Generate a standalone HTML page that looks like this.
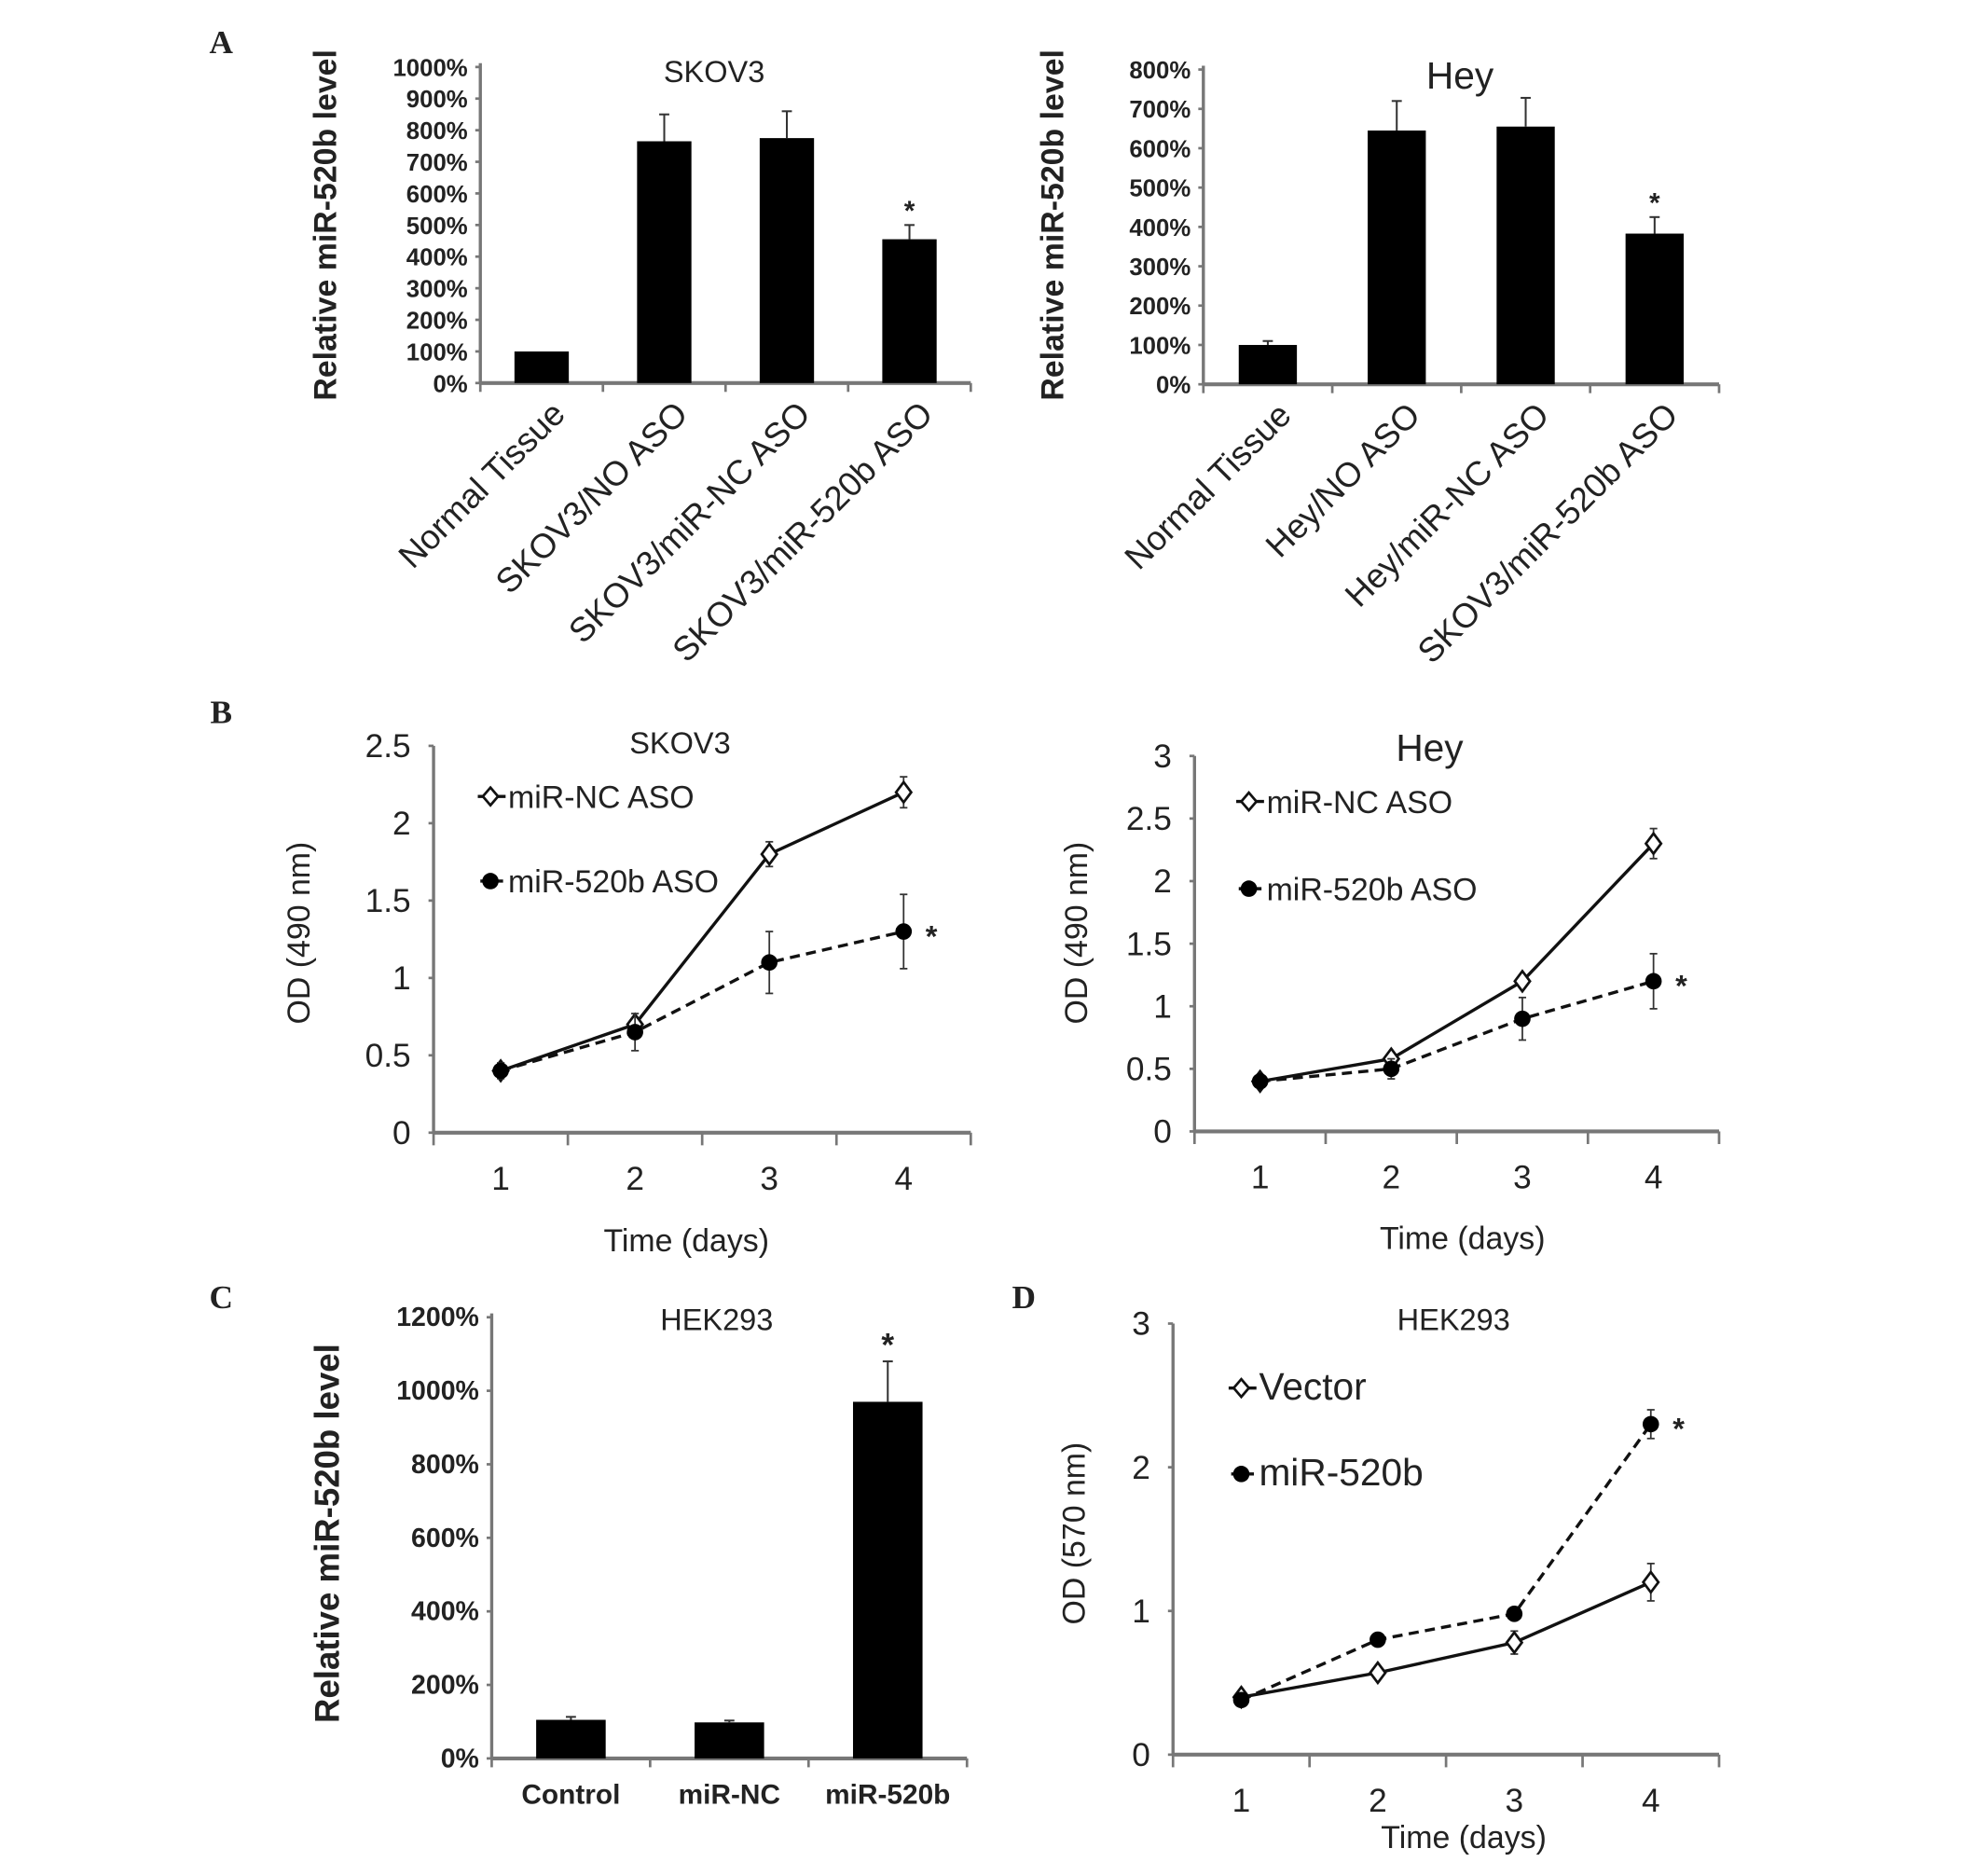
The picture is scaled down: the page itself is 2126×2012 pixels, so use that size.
<!DOCTYPE html>
<html><head><meta charset="utf-8"><style>
html,body{margin:0;padding:0;background:#fff;}
svg{display:block;}
text{font-family:"Liberation Sans",sans-serif;fill:#222;}
</style></head><body>
<svg id="fig" width="2126" height="2012" viewBox="0 0 1568 1484" preserveAspectRatio="none" xmlns="http://www.w3.org/2000/svg"></svg>
<script>
// ---- data ----
const aSkovCats = ["Normal Tissue","SKOV3/NO ASO","SKOV3/miR-NC ASO","SKOV3/miR-520b ASO"];
const aSkovVals = [100,765,775,455];
const aSkovErr = [0,85,85,45];
const aSkovTicks = ["0%","100%","200%","300%","400%","500%","600%","700%","800%","900%","1000%"];
const aHeyCats = ["Normal Tissue","Hey/NO ASO","Hey/miR-NC ASO","SKOV3/miR-520b ASO"];
const aHeyVals = [100,645,655,383];
const aHeyErr = [10,75,73,42];
const aHeyTicks = ["0%","100%","200%","300%","400%","500%","600%","700%","800%"];
const days = [1,2,3,4];
const bSkovNC = [0.4,0.7,1.8,2.2];
const bSkovNCErr = [0.05,0.03,0.08,0.1];
const bSkov520 = [0.4,0.65,1.1,1.3];
const bSkov520Err = [0.05,0.12,0.2,0.24];
const bSkovTicks = ["0","0.5","1","1.5","2","2.5"];
const bHeyNC = [0.4,0.58,1.2,2.3];
const bHeyNCErr = [0.03,0.04,0.05,0.12];
const bHey520 = [0.4,0.5,0.9,1.2];
const bHey520Err = [0.05,0.08,0.17,0.22];
const bHeyTicks = ["0","0.5","1","1.5","2","2.5","3"];
const cCats = ["Control","miR-NC","miR-520b"];
const cVals = [105,98,970];
const cErr = [8,5,110];
const cTicks = ["0%","200%","400%","600%","800%","1000%","1200%"];
const dVector = [0.4,0.57,0.78,1.2];
const dVectorErr = [0.02,0.03,0.08,0.13];
const d520 = [0.38,0.8,0.98,2.3];
const d520Err = [0.02,0.03,0.03,0.1];
const dTicks = ["0","1","2","3"];

const NS="http://www.w3.org/2000/svg";
const svg=document.getElementById('fig');
function el(tag,attrs,parent){const e=document.createElementNS(NS,tag);for(const k in attrs)e.setAttribute(k,attrs[k]);(parent||svg).appendChild(e);return e;}
function txt(s,x,y,size,opts,parent){opts=opts||{};const t=el('text',{x:x,y:y,'font-size':size,'text-anchor':opts.anchor||'middle','font-weight':opts.bold?'bold':'normal'},parent);if(opts.rot!==undefined)t.setAttribute('transform','rotate('+opts.rot+' '+x+' '+y+')');if(opts.family)t.setAttribute('style','font-family:'+opts.family);t.textContent=s;return t;}

function barChart(g,cfg){
  const {x0,x1,y0,y1,max,cats,vals,err,ticks,bw}=cfg;
  const ys=v=>y0-(v/max)*(y0-y1);
  const band=(x1-x0)/cats.length;
  const xs=i=>x0+band*(i+0.5);
  const ax=el('g',{},g);
  
  
  el('line',{x1:x0,y1:y0,x2:x0,y2:y1-3,stroke:'#777','stroke-width':2.5},ax);
  ticks.forEach((t,i)=>{const v=i*max/(ticks.length-1);const y=ys(v);
    el('line',{x1:x0-4,y1:y,x2:x0,y2:y,stroke:'#777','stroke-width':2},ax);
    const tl=txt(t,x0-10,y+7,cfg.tickSize||19,{anchor:'end',bold:true},ax);
    
    });
  const xa=el('g',{},g);
  
  
  el('line',{x1:x0,y1:y0,x2:x1,y2:y0,stroke:'#777','stroke-width':3},xa);
  for(let i=0;i<=cats.length;i++)el('line',{x1:x0+band*i,y1:y0,x2:x0+band*i,y2:y0+7,stroke:'#777','stroke-width':2},xa);
  cats.forEach((c,i)=>{
    const cx=xs(i);
    const r=el('rect',{x:cx-bw/2,y:ys(vals[i]),width:bw,height:y0-ys(vals[i]),fill:'#000'},g);
    
    
    if(err[i]>0){const t=ys(vals[i]+err[i]);
      el('line',{x1:cx,y1:ys(vals[i]),x2:cx,y2:t,stroke:'#333','stroke-width':1.5},g);
      el('line',{x1:cx-4,y1:t,x2:cx+4,y2:t,stroke:'#333','stroke-width':1.5},g);}
    let lab;
    if(cfg.rotLabels){lab=txt(c,cx+20,y0+26,27,{anchor:'end',rot:-45},xa);}
    else{lab=txt(c,cx,y0+36,22,{bold:true},xa);}
    
    
  });
  if(cfg.star!==undefined){const i=cfg.star;txt('*',xs(i),ys(vals[i]+err[i])-4,cfg.starSize||22,{bold:true},g);}
}

function lineChart(g,cfg){
  const {x0,x1,y0,y1,max,ticks,series}=cfg;
  const ys=v=>y0-(v/max)*(y0-y1);
  const band=(x1-x0)/days.length;
  const xs=i=>x0+band*(i+0.5);
  const ax=el('g',{},g);
  
  
  el('line',{x1:x0,y1:y0,x2:x0,y2:y1,stroke:'#777','stroke-width':2.5},ax);
  ticks.forEach((t,i)=>{const v=i*max/(ticks.length-1);const y=ys(v);
    el('line',{x1:x0-4,y1:y,x2:x0,y2:y,stroke:'#777','stroke-width':2},ax);
    const tl=txt(t,x0-18,y+9,cfg.tickSize||26,{anchor:'end'},ax);
    
    });
  const xa=el('g',{},g);
  
  
  el('line',{x1:x0,y1:y0,x2:x1,y2:y0,stroke:'#777','stroke-width':3},xa);
  for(let i=0;i<=days.length;i++)el('line',{x1:x0+band*i,y1:y0,x2:x0+band*i,y2:y0+10,stroke:'#777','stroke-width':2},xa);
  days.forEach((d,i)=>{const tl=txt(String(d),xs(i),y0+45,26,{},xa);
    
    });
  series.forEach((s,si)=>{
    const sg=el('g',{},g);
    
    
    const pts=s.vals.map((v,i)=>xs(i)+','+ys(v)).join(' ');
    el('polyline',{points:pts,fill:'none',stroke:'#111','stroke-width':2.5,'stroke-dasharray':s.dash?'8,5':'none'},sg);
    s.vals.forEach((v,i)=>{const cx=xs(i),cy=ys(v),e=s.err[i];
      el('line',{x1:cx,y1:ys(v+e),x2:cx,y2:ys(v-e),stroke:'#333','stroke-width':1.3},sg);
      el('line',{x1:cx-3,y1:ys(v+e),x2:cx+3,y2:ys(v+e),stroke:'#333','stroke-width':1.3},sg);
      el('line',{x1:cx-3,y1:ys(v-e),x2:cx+3,y2:ys(v-e),stroke:'#333','stroke-width':1.3},sg);
      let m;
      if(s.filled)m=el('circle',{cx:cx,cy:cy,r:6.5,fill:'#000'},sg);
      else m=el('polygon',{points:`${cx},${cy-8} ${cx+6},${cy} ${cx},${cy+8} ${cx-6},${cy}`,fill:'#fff',stroke:'#111','stroke-width':2},sg);
      
      
    });
    if(s.star){const i=s.vals.length-1;txt('*',xs(i)+22,ys(s.vals[i])+12,24,{bold:true},sg);}
    const lg=el('g',{},g);
    
    
    const lx=s.lx,ly=s.ly;
    if(s.filled){el('line',{x1:lx-8,y1:ly,x2:lx+10,y2:ly,stroke:'#111','stroke-width':2.5},lg);el('circle',{cx:lx,cy:ly,r:6.5,fill:'#000'},lg);}
    else{el('line',{x1:lx-10,y1:ly,x2:lx+12,y2:ly,stroke:'#111','stroke-width':2.5},lg);el('polygon',{points:`${lx},${ly-7} ${lx+6},${ly} ${lx},${ly+7} ${lx-6},${ly}`,fill:'#fff',stroke:'#111','stroke-width':2},lg);}
    txt(s.label,lx+14,ly+9,s.lsize||25,{anchor:'start',family:'"Liberation Sans Narrow","Liberation Sans",sans-serif'},lg);
  });
}
function mkG(name){const g=el('g',{});return g;}
function letter(s,x,y){const t=txt(s,x,y,26,{bold:true,family:'"Liberation Serif",serif'});}

letter('A',175,42);letter('B',175,572);letter('C',175,1035);letter('D',810,1035);

let g=mkG('panel-a-skov3-bar-chart');
barChart(g,{x0:380,x1:768,y0:303,y1:53,max:1000,cats:aSkovCats,vals:aSkovVals,err:aSkovErr,ticks:aSkovTicks,bw:43,rotLabels:true,star:3,tickSize:19});
txt('SKOV3',565,65,24,{},g);
txt('Relative miR-520b level',266,178,25,{bold:true,rot:-90},g);
g=mkG('panel-a-hey-bar-chart');
barChart(g,{x0:952,x1:1360,y0:304,y1:55,max:800,cats:aHeyCats,vals:aHeyVals,err:aHeyErr,ticks:aHeyTicks,bw:46,rotLabels:true,star:3,tickSize:19});
txt('Hey',1155,70,30,{},g);
txt('Relative miR-520b level',841,178,25,{bold:true,rot:-90},g);
g=mkG('panel-b-skov3-line-chart');
lineChart(g,{x0:343,x1:768,y0:896,y1:590,max:2.5,ticks:bSkovTicks,series:[
 {name:'series-mir-nc-aso',vals:bSkovNC,err:bSkovNCErr,filled:false,dash:false,label:'miR-NC ASO',lx:388,ly:630},
 {name:'series-mir-520b-aso',vals:bSkov520,err:bSkov520Err,filled:true,dash:true,star:true,label:'miR-520b ASO',lx:388,ly:697}]});
txt('SKOV3',538,596,24,{},g);
txt('OD (490 nm)',245,738,25,{rot:-90},g);
txt('Time (days)',543,990,25,{},g);
g=mkG('panel-b-hey-line-chart');
lineChart(g,{x0:945,x1:1360,y0:895,y1:598,max:3,ticks:bHeyTicks,series:[
 {name:'series-mir-nc-aso',vals:bHeyNC,err:bHeyNCErr,filled:false,dash:false,label:'miR-NC ASO',lx:988,ly:634},
 {name:'series-mir-520b-aso',vals:bHey520,err:bHey520Err,filled:true,dash:true,star:true,label:'miR-520b ASO',lx:988,ly:703}]});
txt('Hey',1131,602,30,{},g);
txt('OD (490 nm)',860,738,25,{rot:-90},g);
txt('Time (days)',1157,988,25,{},g);
g=mkG('panel-c-hek293-bar-chart');
barChart(g,{x0:389,x1:765,y0:1391,y1:1042,max:1200,cats:cCats,vals:cVals,err:cErr,ticks:cTicks,bw:55,rotLabels:false,star:2,starSize:26,tickSize:21});
txt('HEK293',567,1052,24,{},g);
txt('Relative miR-520b level',268,1213,27,{bold:true,rot:-90},g);
g=mkG('panel-d-hek293-line-chart');
lineChart(g,{x0:928,x1:1360,y0:1388,y1:1047,max:3,ticks:dTicks,series:[
 {name:'series-vector',vals:dVector,err:dVectorErr,filled:false,dash:false,label:'Vector',lx:982,ly:1098,lsize:30},
 {name:'series-mir-520b',vals:d520,err:d520Err,filled:true,dash:true,star:true,label:'miR-520b',lx:982,ly:1166,lsize:30}]});
txt('HEK293',1150,1052,24,{},g);
txt('OD (570 nm)',858,1213,25,{rot:-90},g);
txt('Time (days)',1158,1462,25,{},g);
</script>
</body></html>
